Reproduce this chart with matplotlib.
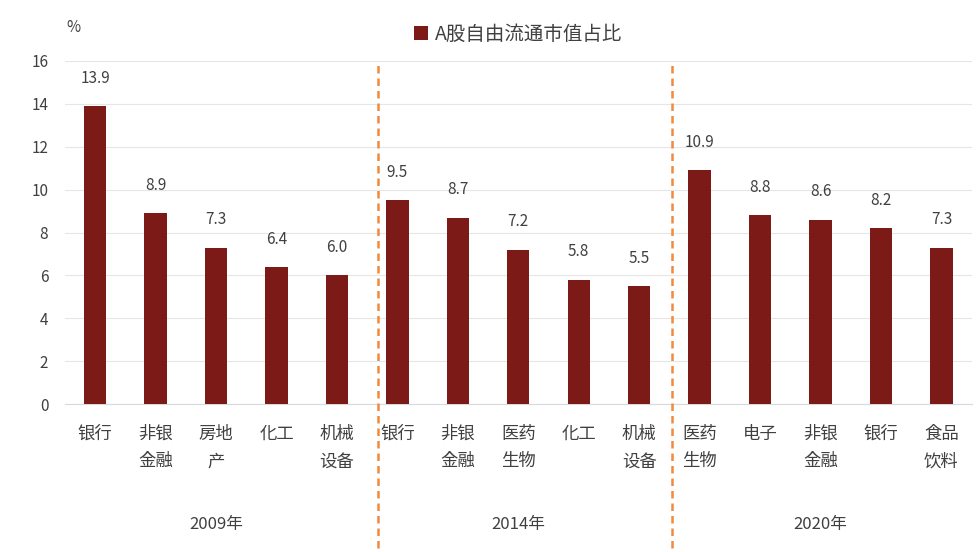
import matplotlib.pyplot as plt
import numpy as np
from matplotlib.transforms import blended_transform_factory

plt.rcParams["font.family"] = ["Noto Sans CJK SC", "Noto Sans CJK JP", "Noto Sans CJK TC",
                               "Noto Sans CJK KR", "DejaVu Sans"]

CATEGORIES = ["银行", "非银\n金融", "房地\n产", "化工", "机械\n设备",
              "银行", "非银\n金融", "医药\n生物", "化工", "机械\n设备",
              "医药\n生物", "电子", "非银\n金融", "银行", "食品\n饮料"]
VALUES = [13.9, 8.9, 7.3, 6.4, 6.0,
          9.5, 8.7, 7.2, 5.8, 5.5,
          10.9, 8.8, 8.6, 8.2, 7.3]
YEARS = ["2009年", "2014年", "2020年"]
BAR_COLOR = "#7B1A17"

fig = plt.figure(figsize=(9.77, 5.52), dpi=100)
ax = fig.add_axes([0.0665, 0.268, 0.928, 0.6215])
x = np.arange(len(VALUES))
ax.bar(x, VALUES, width=0.37, color=BAR_COLOR, zorder=3, label="A股自由流通市值占比")
for xi, v in zip(x, VALUES):
    ax.text(xi, v + 0.9, f"{v:.1f}", ha="center", va="bottom", fontsize=11, color="#404040")

ax.set_xlim(-0.5, len(VALUES) - 0.5)
ax.set_ylim(0, 16)
ax.set_yticks(range(0, 17, 2))
ax.tick_params(axis="y", length=0, labelsize=11, labelcolor="#404040", pad=12)
ax.set_xticks([])
ax.grid(axis="y", color="#E6E6E6", linewidth=0.8, zorder=0)
for s in ["top", "right", "left"]:
    ax.spines[s].set_visible(False)
ax.spines["bottom"].set_color("#D9D9D9")

trans = blended_transform_factory(ax.transData, ax.transAxes)
for xi, c in zip(x, CATEGORIES):
    ax.text(xi, -0.06, c, transform=trans, ha="center", va="top", fontsize=12.5,
            color="#404040", linespacing=1.7)
for i, y in enumerate(YEARS):
    ax.text(5 * i + 2, -0.35, y, transform=trans, ha="center", va="center",
            fontsize=12, color="#404040")
for xv in [4.68, 9.55]:
    ax.plot([xv, xv], [-6.7, 15.8], color="#F08A3C", linestyle=(0, (3, 2)),
            linewidth=1.8, clip_on=False, zorder=4)

fig.text(0.068, 0.95, "%", fontsize=11, color="#404040", ha="left", va="center")
ax.legend(loc="upper center", bbox_to_anchor=(0.5, 1.16), frameon=False,
          fontsize=14, handlelength=0.7, handleheight=0.7, handletextpad=0.4,
          labelcolor="#404040")

fig.savefig("out.png", dpi=100)
